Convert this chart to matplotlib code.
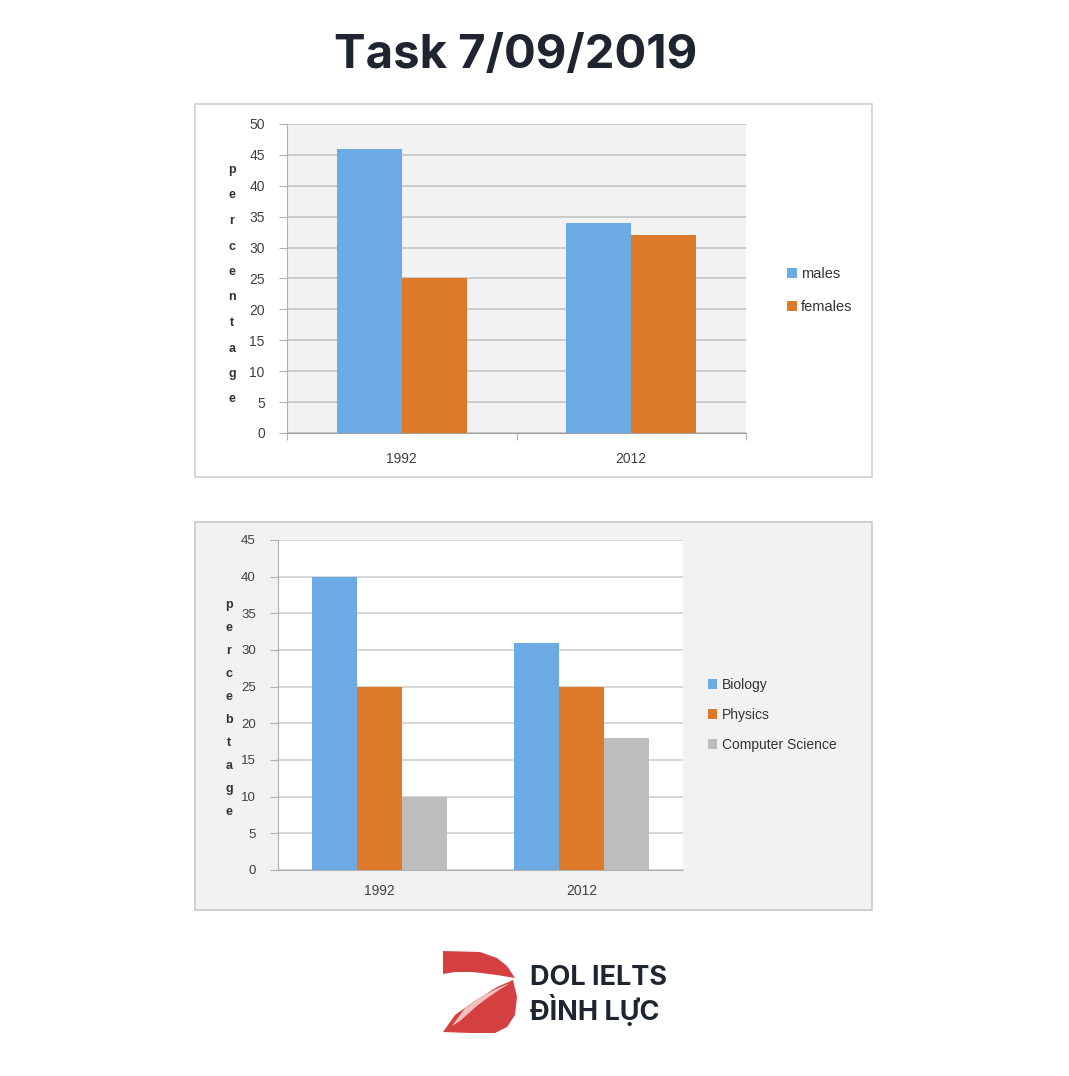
import matplotlib
matplotlib.use('Agg')
import matplotlib.pyplot as plt
from matplotlib.patches import Rectangle, Polygon
import numpy as np

### data
years = ['1992', '2012']
males = [46, 34]
females = [25, 32]
biology = [40, 31]
physics = [25, 25]
comp_sci = [10, 18]

blue = '#6caae4'
orange = '#dc7a2a'
grey = '#bdbdbd'

W, H = 1069, 1076
fig = plt.figure(figsize=(W / 100, H / 100), dpi=100)
plt.rcParams['font.family'] = ['Liberation Sans', 'DejaVu Sans']


def box(x0, y0, x1, y1):
    # pixel box (top-left origin) -> figure fraction rect
    return [x0 / W, 1 - y1 / H, (x1 - x0) / W, (y1 - y0) / H]


# overlay for panel frames and logo
bg = fig.add_axes([0, 0, 1, 1])
bg.set_xlim(0, W)
bg.set_ylim(H, 0)
bg.axis('off')
bg.add_patch(Rectangle((195, 104), 677, 373, facecolor='white', edgecolor='#cfcfcf', lw=1.2))
bg.add_patch(Rectangle((195, 522), 677, 388, facecolor='#f2f2f2', edgecolor='#c8c8c8', lw=1.2))

fig.text(516 / W, 1 - 56 / H, 'Task 7/09/2019', ha='center', va='center',
         fontsize=34, fontweight='bold', color='#1f2530', family=['Inter', 'DejaVu Sans'])

### top chart
ax1 = fig.add_axes(box(287, 124, 746, 433))
ax1.set_facecolor('#f2f2f2')
x = np.arange(len(years))
bw = 0.283
ax1.bar(x - bw / 2, males, bw, color=blue, label='males', zorder=3)
ax1.bar(x + bw / 2, females, bw, color=orange, label='females', zorder=3)
ax1.set_xlim(-0.5, 1.5)
ax1.set_ylim(0, 50)
ax1.set_yticks(range(0, 51, 5))
ax1.yaxis.grid(True, color='#c4c4c4', lw=1.2, zorder=0)
ax1.set_xticks(x)
ax1.set_xticklabels(years)
ax1.set_xticks([-0.5, 0.5, 1.5], minor=True)
ax1.tick_params(axis='x', which='major', length=0, pad=14, labelsize=10, labelcolor='#404040')
ax1.tick_params(axis='x', which='minor', length=5, color='#a0a0a0', direction='out')
ax1.tick_params(axis='y', length=6, color='#b0b0b0', labelsize=10, labelcolor='#404040', pad=10)
for s in ['top', 'right']:
    ax1.spines[s].set_visible(False)
ax1.spines['left'].set_color('#b0b0b0')
ax1.spines['bottom'].set_color('#a0a0a0')
for i, ch in enumerate('percentage'):
    fig.text(232 / W, 1 - (170 + i * 25.5) / H, ch, ha='center', va='center',
             fontsize=9, fontweight='bold', color='#333333')
ax1.legend(loc='center left', bbox_to_anchor=(1.06, 0.46), frameon=False,
           handlelength=0.7, handleheight=0.7, handletextpad=0.3, labelspacing=1.3,
           fontsize=10.5, labelcolor='#333333')

### bottom chart
ax2 = fig.add_axes(box(278, 540, 683, 870))
ax2.set_facecolor('white')
bw2 = 0.222
ax2.bar(x - bw2, biology, bw2, color=blue, label='Biology', zorder=3)
ax2.bar(x, physics, bw2, color=orange, label='Physics', zorder=3)
ax2.bar(x + bw2, comp_sci, bw2, color=grey, label='Computer Science', zorder=3)
ax2.set_xlim(-0.5, 1.5)
ax2.set_ylim(0, 45)
ax2.set_yticks(range(0, 46, 5))
ax2.yaxis.grid(True, color='#d0d0d0', lw=1.2, zorder=0)
ax2.set_xticks(x)
ax2.set_xticklabels(years)
ax2.tick_params(axis='x', length=0, pad=10, labelsize=10, labelcolor='#404040')
ax2.tick_params(axis='y', length=6, color='#b0b0b0', labelsize=9.5, labelcolor='#404040', pad=10)
for s in ['top', 'right']:
    ax2.spines[s].set_visible(False)
ax2.spines['left'].set_color('#b0b0b0')
ax2.spines['bottom'].set_color('#b0b0b0')
for i, ch in enumerate('percebtage'):
    fig.text(229 / W, 1 - (605 + i * 23) / H, ch, ha='center', va='center',
             fontsize=9, fontweight='bold', color='#333333')
ax2.legend(loc='center left', bbox_to_anchor=(1.03, 0.47), frameon=False,
           handlelength=0.7, handleheight=0.7, handletextpad=0.3, labelspacing=1.15,
           fontsize=10, labelcolor='#333333')

### logo
red = '#d44040'
bg.add_patch(Polygon([(443, 951), (480, 952), (497, 958), (507, 966), (515, 978),
                      (497, 975), (473, 972), (455, 972), (443, 974)],
                     closed=True, facecolor=red, edgecolor='none'))
bg.add_patch(Polygon([(443, 1032), (455, 1015), (473, 1002), (497, 987), (513, 980),
                      (517, 997), (515, 1015), (507, 1027), (495, 1033), (470, 1033)],
                     closed=True, facecolor=red, edgecolor='none'))
bg.add_patch(Polygon([(452, 1026), (465, 1008), (480, 997), (498, 988), (510, 983),
                      (496, 992), (486, 999), (478, 1005), (470, 1012), (460, 1021)],
                     closed=True, facecolor='#f2c0c0', edgecolor='none'))
fig.text(530 / W, 1 - 978 / H, 'DOL IELTS', ha='left', va='center', fontsize=19.5,
         fontweight='bold', color='#1f2530', family=['Inter', 'DejaVu Sans'])
fig.text(530 / W, 1 - 1010 / H, 'ĐÌNH LỰC', ha='left', va='center', fontsize=19.5,
         fontweight='bold', color='#1f2530', family=['Inter', 'DejaVu Sans'])

plt.savefig('out.png', dpi=100)
